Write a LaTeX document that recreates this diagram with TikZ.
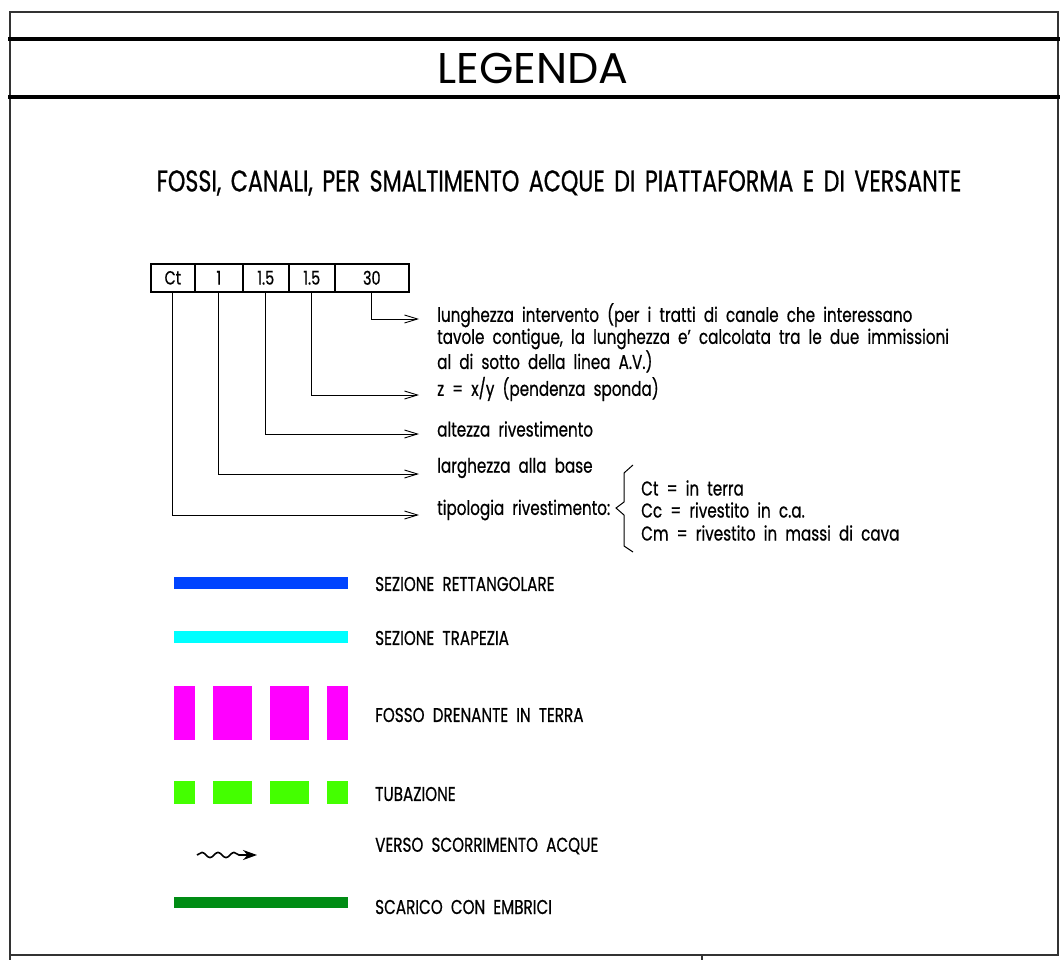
\documentclass[tikz,border=0pt]{standalone}
\usepackage{fontspec}
\setmainfont{Poppins}[FakeStretch=0.76, WordSpace=2.0, FakeBold=0.6]
\newfontfamily\titlefont{Poppins}[FakeStretch=1.03]
\newfontfamily\subfont{Poppins}[FakeStretch=0.74, WordSpace=1.6, FakeBold=0.6]
\usetikzlibrary{arrows.meta,decorations.pathmorphing}
\definecolor{rettblue}{RGB}{0,68,255}
\definecolor{trapcyan}{RGB}{0,255,255}
\definecolor{fossomag}{RGB}{255,0,255}
\definecolor{tubogreen}{RGB}{68,255,0}
\definecolor{embrgreen}{RGB}{0,140,20}
\begin{document}
\begin{tikzpicture}[x=1pt, y=-1pt,
    framebox/.style={line width=1.1pt, draw=black!80},
    thickrule/.style={line width=3.5pt},
    cell/.style={draw, line width=1.6pt, minimum height=28pt, inner sep=0pt, anchor=north west, font=\fontsize{19}{19}\selectfont},
    lead/.style={line width=0.9pt, -{Straight Barb[length=13pt,width=8pt]}},
    desc/.style={anchor=west, inner sep=0pt, align=left, font=\fontsize{20}{22}\selectfont},
    itemtext/.style={anchor=west, inner sep=0pt, font=\fontsize{20}{20}\selectfont}]
    \useasboundingbox (0,0) rectangle (1062,960);
    % frame
    \draw[framebox] (10,960) -- (10,12) -- (1058,12) -- (1058,955) -- (10,955);
    \draw[framebox] (702,955) -- (702,960);
    \draw[thickrule] (8,39) -- (1060,39);
    \draw[thickrule] (8,97) -- (1060,97);
    \node[font=\titlefont\fontsize{43}{43}\selectfont] (title) at (533,68) {LEGENDA};
    \node[font=\subfont\fontsize{30}{30}\selectfont] (subtitle) at (559,183) {FOSSI, CANALI, PER SMALTIMENTO ACQUE DI PIATTAFORMA E DI VERSANTE};
    %cells
    \node[cell, minimum width=44pt] (ct) at (150,263) {Ct};
    \node[cell, minimum width=48pt] (base) at (194,263) {1};
    \node[cell, minimum width=46pt] (alt) at (242,263) {1.5};
    \node[cell, minimum width=46pt] (zeta) at (288,263) {1.5};
    \node[cell, minimum width=74pt] (lung) at (334,263) {30};
    %descriptions
    \node[desc, anchor=north west] (dlung) at (437,303) {lunghezza intervento (per i tratti di canale che interessano\\tavole contigue, la lunghezza e' calcolata tra le due immissioni\\al di sotto della linea A.V.)};
    \node[desc] (dzeta) at (437,389) {z = x/y (pendenza sponda)};
    \node[desc] (dalt) at (437,429) {altezza rivestimento};
    \node[desc] (dbase) at (437,468) {larghezza alla base};
    \node[desc] (dct) at (437,510) {tipologia rivestimento:};
    \node[desc] (ctlist) at (641,488) {Ct = in terra};
    \node[desc] (cclist) at (641,510) {Cc = rivestito in c.a.};
    \node[desc] (cmlist) at (641,533) {Cm = rivestito in massi di cava};
    \draw[line width=1pt] (633,465) -- (624,473) -- (624,502) -- (616,508) -- (624,515) -- (624,546) -- (633,552);
    %leaders
    \coordinate (elung) at (419,319);
    \coordinate (ezeta) at (419,395);
    \coordinate (ealt) at (419,434);
    \coordinate (ebase) at (419,474);
    \coordinate (ect) at (419,515);
    \draw[lead] (lung.south) |- (elung);
    \draw[lead] (zeta.south) |- (ezeta);
    \draw[lead] (alt.south) |- (ealt);
    \draw[lead] (base.south) |- (ebase);
    \draw[lead] (ct.south) |- (ect);
    %legend symbols
    \draw[rettblue, line width=12pt] (174,583) -- (348,583);
    \draw[trapcyan, line width=12pt] (174,637) -- (348,637);
    \foreach \a/\b in {174/195,213/252,270/309,327/348}
        \fill[fossomag] (\a,686) rectangle (\b,740);
    \foreach \a/\b in {174/195,213/252,270/309,327/348}
        \fill[tubogreen] (\a,781) rectangle (\b,804);
    \draw[line width=1.6pt, -{Stealth[length=14pt,width=10pt]},
        decoration={snake, amplitude=2.6pt, segment length=16pt, post length=12pt}, decorate] (197,855) -- (257,855);
    \draw[embrgreen, line width=11pt] (174,902) -- (348,902);
    \node[itemtext] (lrett) at (375,584) {SEZIONE RETTANGOLARE};
    \node[itemtext] (ltrap) at (375,638) {SEZIONE TRAPEZIA};
    \node[itemtext] (lfosso) at (375,715) {FOSSO DRENANTE IN TERRA};
    \node[itemtext] (ltubo) at (375,794) {TUBAZIONE};
    \node[itemtext] (lverso) at (375,846) {VERSO SCORRIMENTO ACQUE};
    \node[itemtext] (lscar) at (375,907) {SCARICO CON EMBRICI};
\end{tikzpicture}
\end{document}
